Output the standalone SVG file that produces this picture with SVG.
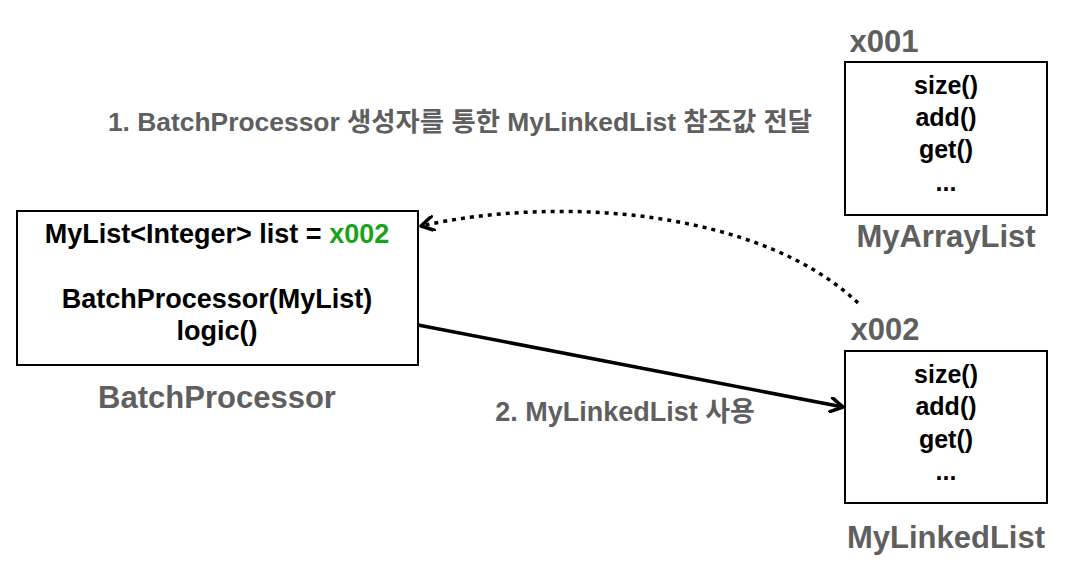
<svg xmlns="http://www.w3.org/2000/svg" width="1068" height="565" viewBox="0 0 1068 565">
<style>
.box{fill:#fff;stroke:#000;stroke-width:2}
.t{font-family:"Liberation Sans","Noto Sans CJK KR",sans-serif;font-weight:bold;text-anchor:middle}
.in{font-size:27px;fill:#000}
.m{font-size:25px;fill:#000}
.g{font-size:31px;fill:#5f5f5f}
.lbl{font-size:26.4px;fill:#5f5f5f}
.conn{fill:none;stroke:#000;stroke-width:3.5}
</style>
<defs>
<marker id="arr" viewBox="0 0 16 16" refX="14" refY="8" markerWidth="16" markerHeight="16" markerUnits="userSpaceOnUse" orient="auto">
<path d="M2,1 L14,8 L2,15" fill="none" stroke="#000" stroke-width="3.5" stroke-linecap="round" stroke-linejoin="round"/>
</marker>
</defs>
<g id="title">
<text class="t lbl" x="460" y="131">1. BatchProcessor 생성자를 통한 MyLinkedList 참조값 전달</text>
</g>
<g id="batchProcessor">
<rect class="box" x="17" y="211" width="401" height="154"/>
<text class="t in" x="217" y="243">MyList&lt;Integer&gt; list = <tspan fill="#1aa31a">x002</tspan></text>
<text class="t in" x="217" y="308">BatchProcessor(MyList)</text>
<text class="t in" x="217" y="340">logic()</text>
<text class="t g" x="217" y="408">BatchProcessor</text>
</g>
<g id="myArrayList">
<text class="t g" x="884" y="52">x001</text>
<rect class="box" x="845" y="62" width="202" height="153"/>
<text class="t m" x="946" y="94">size()</text>
<text class="t m" x="946" y="126">add()</text>
<text class="t m" x="946" y="158">get()</text>
<text class="t m" x="946" y="191">...</text>
<text class="t g" x="946" y="247">MyArrayList</text>
</g>
<g id="myLinkedList">
<text class="t g" x="885" y="340">x002</text>
<rect class="box" x="845" y="351" width="202" height="152"/>
<text class="t m" x="946" y="383">size()</text>
<text class="t m" x="946" y="415">add()</text>
<text class="t m" x="946" y="448">get()</text>
<text class="t m" x="946" y="480">...</text>
<text class="t g" x="946" y="548">MyLinkedList</text>
</g>
<g id="connectors">
<path class="conn" d="M858,303 C760,210 560,195 421,226" stroke-width="4" stroke-dasharray="4,5" marker-end="url(#arr)"/>
<path class="conn" d="M418,325 L843,407" marker-end="url(#arr)"/>
<text class="t lbl" x="625" y="421" style="font-size:27px">2. MyLinkedList 사용</text>
</g>
</svg>
